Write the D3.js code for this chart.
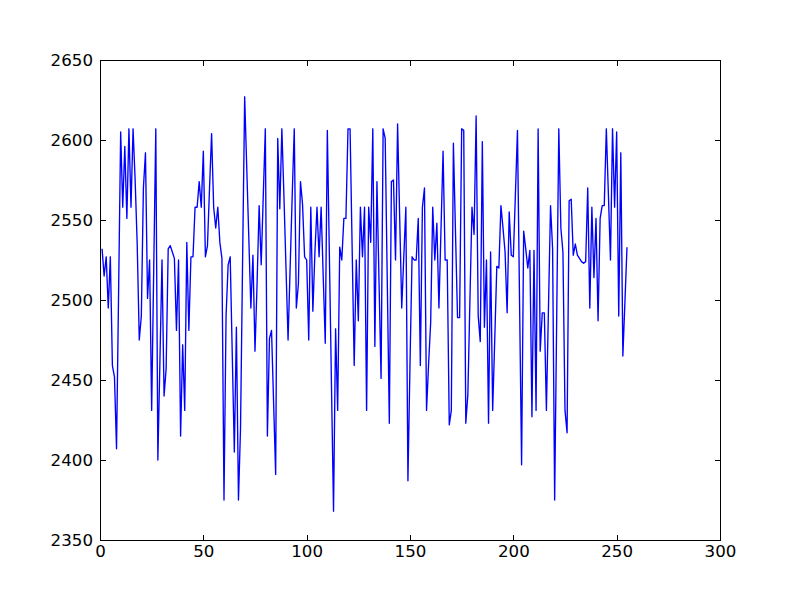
<!DOCTYPE html>
<html>
<head>
<meta charset="utf-8">
<script src="https://cdn.jsdelivr.net/npm/d3@7"></script>
<style>
  body { margin: 0; background: #fff; }
  svg { display: block; }
  .tick text { font-family: "DejaVu Sans", sans-serif; font-size: 16.67px; fill: #000; }
</style>
</head>
<body>
<svg width="800" height="600"></svg>
<script>
/* values, one per step, first step at x = 1 */
var values = [
  2532, 2515, 2527, 2495, 2527, 2459, 2452, 2407, 2505, 2605,
  2558, 2596, 2551, 2607, 2558, 2607, 2575, 2535, 2475, 2490,
  2570, 2592, 2501, 2525, 2431, 2520, 2607, 2400, 2462, 2525,
  2440, 2457, 2532, 2534, 2530, 2526, 2481, 2525, 2415, 2472,
  2431, 2536, 2481, 2527, 2527, 2558, 2558, 2574, 2558, 2593,
  2527, 2534, 2570, 2604, 2558, 2545, 2558, 2536, 2526, 2375,
  2490, 2522, 2527, 2466, 2405, 2483, 2375, 2420, 2525, 2627,
  2583, 2539, 2495, 2528, 2468, 2510, 2559, 2522, 2565, 2607,
  2415, 2476, 2481, 2436, 2391, 2601, 2557, 2607, 2565, 2520,
  2475, 2520, 2565, 2607, 2495, 2510, 2574, 2560, 2527, 2525,
  2475, 2558, 2493, 2530, 2558, 2527, 2558, 2515, 2473, 2606,
  2527, 2447, 2368, 2482, 2431, 2533, 2525, 2551, 2551, 2607,
  2607, 2533, 2459, 2525, 2487, 2558, 2527, 2558, 2431, 2558,
  2536, 2607, 2471, 2574, 2512, 2451, 2607, 2601, 2512, 2423,
  2574, 2575, 2525, 2610, 2552, 2495, 2527, 2558, 2387, 2460,
  2527, 2525, 2525, 2551, 2459, 2558, 2570, 2431, 2460, 2486,
  2558, 2525, 2548, 2495, 2544, 2593, 2525, 2525, 2422, 2431,
  2598, 2543, 2489, 2489, 2607, 2606, 2423, 2441, 2500, 2558,
  2541, 2615, 2490, 2474, 2599, 2483, 2525, 2423, 2530, 2431,
  2475, 2521, 2520, 2559, 2545, 2530, 2492, 2555, 2528, 2527,
  2566, 2606, 2500, 2397, 2543, 2532, 2520, 2531, 2427, 2531,
  2431, 2607, 2468, 2492, 2492, 2431, 2495, 2559, 2532, 2375,
  2491, 2607, 2545, 2530, 2431, 2417, 2562, 2563, 2528, 2535,
  2528, 2526, 2524, 2523, 2524, 2570, 2495, 2558, 2514, 2551,
  2487, 2551, 2559, 2559, 2607, 2566, 2525, 2607, 2558, 2605,
  2490, 2592, 2465, 2499, 2533
];
var firstX = 1;

var xTicks = [0, 50, 100, 150, 200, 250, 300];
var yTicks = [2350, 2400, 2450, 2500, 2550, 2600, 2650];

var svg = d3.select("svg"),
    margin = {top: 60, right: 80, bottom: 60, left: 100},
    w = +svg.attr("width") - margin.left - margin.right,
    h = +svg.attr("height") - margin.top - margin.bottom,
    tickLen = 5.5;

var x = d3.scaleLinear().domain([0, 300]).range([0, w]),
    y = d3.scaleLinear().domain([2350, 2650]).range([h, 0]);

var g = svg.append("g")
    .attr("transform", "translate(" + margin.left + "," + margin.top + ")");

var line = d3.line()
    .x(function(d, i) { return x(i + firstX); })
    .y(function(d) { return y(d); });

g.append("path")
    .datum(values)
    .attr("fill", "none")
    .attr("stroke", "#0000ff")
    .attr("stroke-width", 1.35)
    .attr("stroke-linejoin", "round")
    .attr("d", line);

// ticks point inward on all four sides, labels only left and bottom
var axes = [
  {ax: d3.axisBottom(x).tickValues(xTicks).tickFormat(d3.format("d")).tickPadding(5), t: "translate(0," + h + ")"},
  {ax: d3.axisTop(x).tickValues(xTicks).tickFormat(""), t: "translate(0,0)"},
  {ax: d3.axisLeft(y).tickValues(yTicks).tickFormat(d3.format("d")).tickPadding(7), t: "translate(0,0)"},
  {ax: d3.axisRight(y).tickValues(yTicks).tickFormat(""), t: "translate(" + w + ",0)"}
];

axes.forEach(function(a) {
  var ag = g.append("g")
      .attr("transform", a.t)
      .call(a.ax.tickSizeInner(-tickLen).tickSizeOuter(0));
  ag.select(".domain").remove();
  ag.selectAll(".tick line").attr("stroke", "#000").attr("shape-rendering", "crispEdges");
  ag.attr("font-family", null).attr("font-size", null);
});

g.append("rect")
    .attr("x", 0)
    .attr("y", 0)
    .attr("width", w)
    .attr("height", h)
    .attr("fill", "none")
    .attr("stroke", "#000")
    .attr("stroke-width", 1)
    .attr("shape-rendering", "crispEdges");
</script>
</body>
</html>
